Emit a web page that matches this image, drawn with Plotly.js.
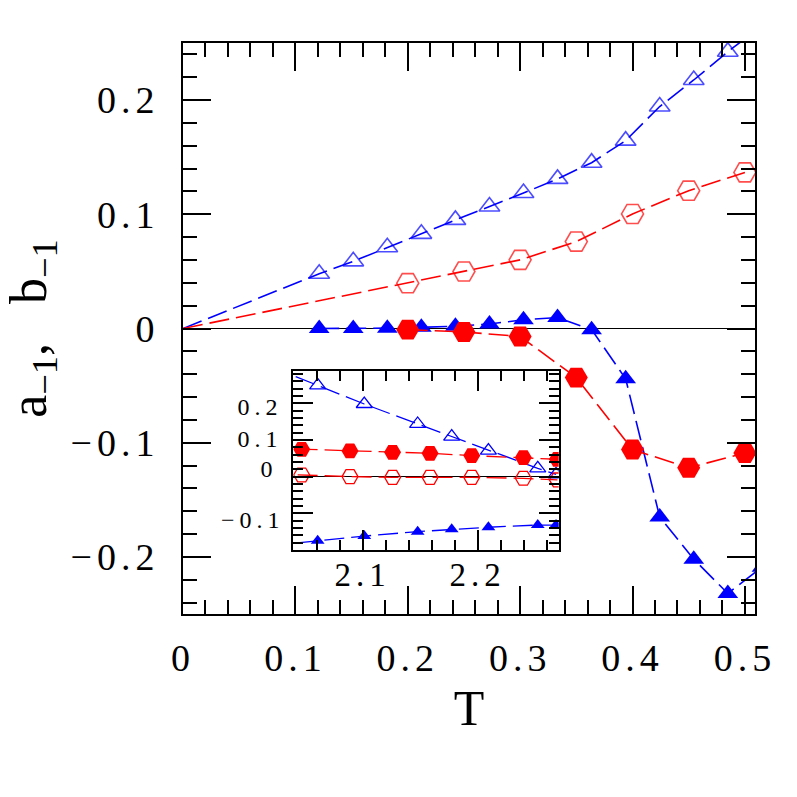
<!DOCTYPE html>
<html>
<head>
<meta charset="utf-8">
<script src="https://cdn.plot.ly/plotly-3.0.1.min.js"></script>
<style>
html,body{margin:0;padding:0;background:#fff;}
#chart{width:797px;height:797px;}
#chart .xtick text, #chart .ytick text, #chart .x2tick text, #chart .annotation-text { letter-spacing: 5px; }
</style>
</head>
<body>
<div id="chart"></div>
<script>
// ---- main panel data ----
// temperatures of the triangle series (k/33)
var triT = [0.1212, 0.1515, 0.1818, 0.2121, 0.2424, 0.2727, 0.3030, 0.3333, 0.3636, 0.3939, 0.4242, 0.4545, 0.4848];
var triOpenY = [0.0479, 0.0588, 0.0712, 0.0829, 0.0951, 0.1068, 0.1186, 0.1310, 0.1452, 0.1645, 0.1944, 0.2176, 0.2424];
var triFilledY = [0.000, 0.000, 0.0003, 0.001, 0.002, 0.004, 0.0076, 0.0096, -0.001, -0.044, -0.165, -0.202, -0.232];
var hexT = [0.20, 0.25, 0.30, 0.35, 0.40, 0.45, 0.50];
var hexOpenY = [0.0397, 0.0499, 0.0601, 0.0761, 0.1003, 0.1207, 0.1367];
var hexFilledY = [-0.001, -0.003, -0.007, -0.043, -0.106, -0.122, -0.109];
// continuation points (lines leave the frame)
var triNextT = 0.5152, triOpenNextY = 0.265, triFilledNextY = -0.209;

// ---- inset data ----
var insTriX = [2.020, 2.0609, 2.1014, 2.1478, 2.1774, 2.2093, 2.2522, 2.2681];
var insTriOpenY = [0.300, 0.249, 0.198, 0.1436, 0.109, 0.071, 0.0227, 0.006];
var insTriFilledY = [-0.188, -0.175, -0.162, -0.150, -0.1436, -0.138, -0.132, -0.132];
var insHexX = [2.020, 2.047, 2.089, 2.126, 2.1586, 2.1948, 2.2397, 2.2693];
var insHexFilledY = [0.0774, 0.0745, 0.070, 0.0664, 0.0636, 0.0573, 0.0518, 0.0473];
var insHexOpenY = [0.0075, 0.0045, 0.000, -0.002, -0.002, -0.002, -0.0045, -0.009];

// tick labels
var xTickVals = [0, 0.1, 0.2, 0.3, 0.4, 0.5];
var xTickText = ['0', '0.1', '0.2', '0.3', '0.4', '0.5'];
var yTickVals = [-0.2, -0.1, 0, 0.1, 0.2];
var yTickText = ['\u22120.2', '\u22120.1', '0', '0.1', '0.2'];
var insXTickVals = [2.1, 2.2];
var insXTickText = ['2.1', '2.2'];
var insYLabelText = ['0.2', '0.1', '0', '\u22120.1'];
var insYLabelPos = [0.1907, 0.1027, 0.021, -0.118];

var BLUE = '#0000ff', RED = '#ff0000';
var DASH = '20px,7px';
var FONT = 'Liberation Serif, Times New Roman, serif';

function sizes(n, s, zeroFirst) {
  var a = [];
  for (var i = 0; i < n; i++) a.push(s);
  if (zeroFirst) a[0] = 0;
  return a;
}

var traces = [
  { x: [0].concat(triT, [triNextT]), y: [0].concat(triOpenY, [triOpenNextY]),
    mode: 'lines+markers', line: {color: BLUE, width: 1.6, dash: DASH},
    marker: {symbol: 'triangle-up-open', size: sizes(triT.length + 2, 18, true), color: BLUE, line: {width: 1.6, color: BLUE}},
    xaxis: 'x', yaxis: 'y', showlegend: false },
  { x: [0].concat(hexT), y: [0].concat(hexOpenY),
    mode: 'lines+markers', line: {color: RED, width: 1.6, dash: DASH},
    marker: {symbol: 'hexagon2-open', size: sizes(hexT.length + 1, 22, true), color: RED, line: {width: 1.6, color: RED}},
    xaxis: 'x', yaxis: 'y', showlegend: false },
  { x: triT.concat([triNextT]), y: triFilledY.concat([triFilledNextY]),
    mode: 'lines+markers', line: {color: BLUE, width: 1.6, dash: DASH},
    marker: {symbol: 'triangle-up', size: 18, color: BLUE},
    xaxis: 'x', yaxis: 'y', showlegend: false },
  { x: hexT, y: hexFilledY,
    mode: 'lines+markers', line: {color: RED, width: 1.6, dash: DASH},
    marker: {symbol: 'hexagon2', size: 23, color: RED},
    xaxis: 'x', yaxis: 'y', showlegend: false },
  // inset
  { x: insTriX, y: insTriOpenY, mode: 'lines+markers', line: {color: BLUE, width: 1.3, dash: DASH},
    marker: {symbol: 'triangle-up-open', size: 14, color: BLUE, line: {width: 1.3, color: BLUE}},
    xaxis: 'x2', yaxis: 'y2', showlegend: false },
  { x: insHexX, y: insHexFilledY, mode: 'lines+markers', line: {color: RED, width: 1.3, dash: DASH},
    marker: {symbol: 'hexagon2', size: 17, color: RED},
    xaxis: 'x2', yaxis: 'y2', showlegend: false },
  { x: insHexX, y: insHexOpenY, mode: 'lines+markers', line: {color: RED, width: 1.3, dash: DASH},
    marker: {symbol: 'hexagon2-open', size: 16, color: RED, line: {width: 1.3, color: RED}},
    xaxis: 'x2', yaxis: 'y2', showlegend: false },
  { x: insTriX, y: insTriFilledY, mode: 'lines+markers', line: {color: BLUE, width: 1.3, dash: DASH},
    marker: {symbol: 'triangle-up', size: 12, color: BLUE},
    xaxis: 'x2', yaxis: 'y2', showlegend: false }
];

var annotations = insYLabelText.map(function (t, i) {
  return { text: t, xref: 'paper', yref: 'y2', x: 0.162, y: insYLabelPos[i],
           xanchor: 'right', yanchor: 'middle', showarrow: false, borderpad: 0,
           font: {family: FONT, size: 24, color: '#000'} };
});

var axBase = {
  showline: true, linewidth: 2, linecolor: '#000', mirror: 'allticks',
  ticks: 'inside', tickwidth: 2, tickcolor: '#000', showgrid: false
};

var layout = {
  width: 797, height: 797,
  margin: {l: 183, r: 42, t: 43, b: 183},
  paper_bgcolor: '#fff', plot_bgcolor: '#fff',
  showlegend: false,
  xaxis: Object.assign({}, axBase, {
    range: [0, 0.509], tickmode: 'array', tickvals: xTickVals, ticktext: xTickText,
    ticklen: 28, zeroline: false, ticklabelstandoff: 9,
    minor: {dtick: 0.02, tick0: 0, ticklen: 14, tickwidth: 2, tickcolor: '#000', ticks: 'inside', showgrid: false},
    tickfont: {family: FONT, size: 38, color: '#000'},
    title: {text: 'T', font: {family: FONT, size: 50, color: '#000'}, standoff: 12}
  }),
  yaxis: Object.assign({}, axBase, {
    range: [-0.25, 0.25], tickmode: 'array', tickvals: yTickVals, ticktext: yTickText,
    ticklen: 28, zeroline: true, zerolinecolor: '#000', zerolinewidth: 1.5, ticklabelstandoff: 14,
    minor: {dtick: 0.02, tick0: 0, ticklen: 14, tickwidth: 2, tickcolor: '#000', ticks: 'inside', showgrid: false},
    tickfont: {family: FONT, size: 38, color: '#000'},
    title: {text: 'a<sub>\u22121</sub>,   b<sub>\u22121</sub>', font: {family: FONT, size: 52, color: '#000'}, standoff: 30}
  }),
  xaxis2: Object.assign({}, axBase, {
    domain: [0.1928, 0.6568], anchor: 'y2',
    range: [2.0397, 2.2704], tickmode: 'array', tickvals: insXTickVals, ticktext: insXTickText,
    ticklen: 20, zeroline: false, ticklabelstandoff: -6,
    minor: {dtick: 0.02, tick0: 0, ticklen: 10, tickwidth: 2, tickcolor: '#000', ticks: 'inside', showgrid: false},
    tickfont: {family: FONT, size: 33, color: '#000'}
  }),
  yaxis2: Object.assign({}, axBase, {
    domain: [0.1121, 0.4256], anchor: 'x2',
    range: [-0.2, 0.288], dtick: 0.1, tick0: 0, showticklabels: false,
    ticklen: 20, zeroline: true, zerolinecolor: '#000', zerolinewidth: 1.5,
    minor: {dtick: 0.02, tick0: 0, ticklen: 10, tickwidth: 2, tickcolor: '#000', ticks: 'inside', showgrid: false}
  }),
  annotations: annotations
};

Plotly.newPlot('chart', traces, layout, {staticPlot: true, displayModeBar: false});
</script>
</body>
</html>
